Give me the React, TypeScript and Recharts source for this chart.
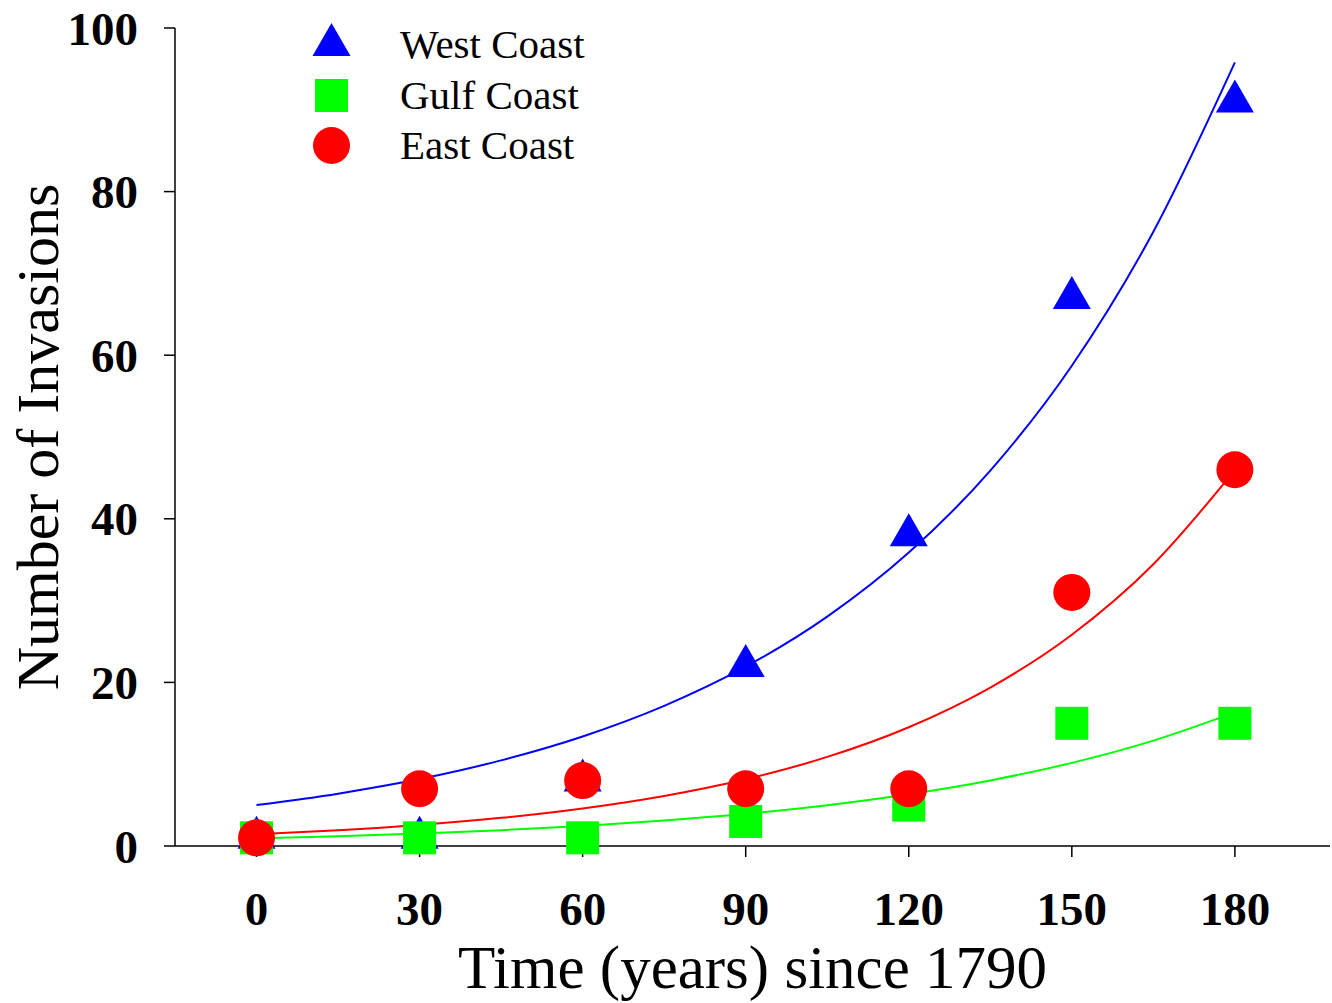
import React from 'react';
import { ComposedChart, Line, Scatter, XAxis, YAxis, Legend, Label } from 'recharts';

// Observed data (years since 1790)
const years = [0, 30, 60, 90, 120, 150, 180];
const westCoast = [1, 1, 8, 22, 38, 67, 91];
const gulfCoast = [1, 1, 1, 3, 5, 15, 15];
const eastCoast = [1, 7, 8, 7, 7, 31, 46];

// Fitted curves
const fitYears = [0, 15, 30, 45, 60, 75, 90, 105, 120, 135, 150, 165, 180];
const westFit = [5.0, 6.4, 8.18, 10.47, 13.39, 17.13, 21.92, 28.04, 35.87, 45.89, 58.71, 75.1, 95.8];
const gulfFit = [0.95, 1.2, 1.53, 1.93, 2.45, 3.11, 3.94, 4.99, 6.33, 8.02, 10.16, 12.88, 16.33];
const eastFit = [1.45, 1.93, 2.58, 3.44, 4.59, 6.12, 8.16, 10.89, 14.52, 19.37, 25.83, 34.45, 45.95];

const xTicks = [0, 30, 60, 90, 120, 150, 180];
const yTicks = [0, 20, 40, 60, 80, 100];

const seriesNames = ['West Coast', 'Gulf Coast', 'East Coast'];
const seriesColors = ['#0000ff', '#00ff00', '#ff0000'];

const toPoints = (xs: number[], ys: number[]) => xs.map((t, i) => ({ t, v: ys[i] }));

const westPts = toPoints(years, westCoast);
const gulfPts = toPoints(years, gulfCoast);
const eastPts = toPoints(years, eastCoast);
const westFitPts = toPoints(fitYears, westFit);
const gulfFitPts = toPoints(fitYears, gulfFit);
const eastFitPts = toPoints(fitYears, eastFit);

const FONT = '"Liberation Serif", "Times New Roman", Times, serif';

const triPath = (cx: number, cy: number) =>
  `M${cx},${cy - 22}L${cx + 19},${cy + 11}L${cx - 19},${cy + 11}Z`;

const TriangleShape = (p: any) => <path d={triPath(p.cx, p.cy)} fill={seriesColors[0]} />;
const SquareShape = (p: any) => (
  <rect x={p.cx - 16.5} y={p.cy - 16.5} width={33} height={33} fill={seriesColors[1]} />
);
const CircleShape = (p: any) => <circle cx={p.cx} cy={p.cy} r={18.5} fill={seriesColors[2]} />;

const LegendContent = () => {
  const rows = [45, 95.5, 145.5];
  const mx = 331.5;
  return (
    <svg width={700} height={180} style={{ display: 'block' }}>
      <path d={triPath(mx, rows[0])} fill={seriesColors[0]} />
      <rect x={mx - 16.5} y={rows[1] - 16.5} width={33} height={33} fill={seriesColors[1]} />
      <circle cx={mx} cy={rows[2]} r={18.5} fill={seriesColors[2]} />
      {seriesNames.map((n, i) => (
        <text key={n} x={400} y={rows[i] + 13} fontSize={41} fontFamily={FONT} fill="#000">
          {n}
        </text>
      ))}
    </svg>
  );
};

export default function App() {
  return (
    <div style={{ position: 'absolute', left: 0, top: 0, width: 1332, height: 1003, background: '#fff' }}>
      <ComposedChart
        width={1332}
        height={1003}
        margin={{ top: 28, right: 2, bottom: 0, left: 0 }}
      >
        <XAxis
          dataKey="t"
          type="number"
          domain={[-15, 197.5]}
          ticks={xTicks}
          allowDataOverflow
          height={157}
          stroke="#000"
          strokeWidth={1.5}
          tickSize={11}
          tickMargin={35}
          tick={{ fill: '#000', fontSize: 47, fontWeight: 'bold', fontFamily: FONT }}
        >
          <Label
            content={(props: any) => {
              const vb = props.viewBox || { x: 175, y: 846, width: 1155, height: 157 };
              return (
                <text
                  x={vb.x + vb.width / 2}
                  y={vb.y + 142}
                  textAnchor="middle"
                  fontSize={61}
                  fontFamily={FONT}
                  fill="#000"
                >
                  Time (years) since 1790
                </text>
              );
            }}
          />
        </XAxis>
        <YAxis
          type="number"
          domain={[0, 100]}
          ticks={yTicks}
          width={175}
          stroke="#000"
          strokeWidth={1.5}
          tickSize={11}
          tickMargin={26}
          tick={{ fill: '#000', fontSize: 47, fontWeight: 'bold', fontFamily: FONT }}
        >
          <Label
            content={(props: any) => {
              const vb = props.viewBox || { x: 0, y: 28, width: 175, height: 818 };
              const x = vb.x + 58;
              const y = vb.y + vb.height / 2;
              return (
                <text
                  x={x}
                  y={y}
                  textAnchor="middle"
                  fontSize={60}
                  fontFamily={FONT}
                  fill="#000"
                  transform={`rotate(-90, ${x}, ${y})`}
                >
                  Number of Invasions
                </text>
              );
            }}
          />
        </YAxis>
        <Legend
          layout="vertical"
          align="center"
          verticalAlign="middle"
          wrapperStyle={{ left: 0, top: 0, width: 700, height: 180 }}
          content={() => <LegendContent />}
        />
        <Line data={westFitPts} dataKey="v" type="monotone" stroke={seriesColors[0]} strokeWidth={2} dot={false} isAnimationActive={false} legendType="none" />
        <Line data={eastFitPts} dataKey="v" type="monotone" stroke={seriesColors[2]} strokeWidth={2} dot={false} isAnimationActive={false} legendType="none" />
        <Line data={gulfFitPts} dataKey="v" type="monotone" stroke={seriesColors[1]} strokeWidth={2} dot={false} isAnimationActive={false} legendType="none" />
        <Scatter name={seriesNames[0]} data={westPts} dataKey="v" shape={TriangleShape} isAnimationActive={false} />
        <Scatter name={seriesNames[1]} data={gulfPts} dataKey="v" shape={SquareShape} isAnimationActive={false} />
        <Scatter name={seriesNames[2]} data={eastPts} dataKey="v" shape={CircleShape} isAnimationActive={false} />
      </ComposedChart>
    </div>
  );
}
